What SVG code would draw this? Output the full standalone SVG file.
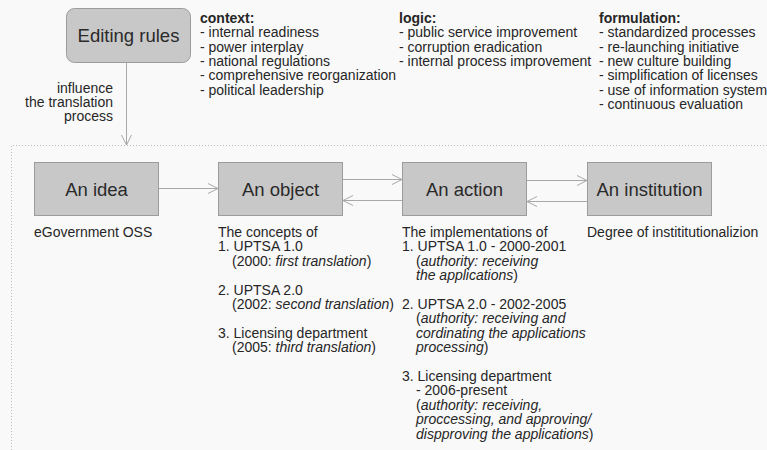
<svg xmlns="http://www.w3.org/2000/svg" width="767" height="450" viewBox="0 0 767 450">
<defs>
<style>
text{font-family:"Liberation Sans",Arial,Helvetica,sans-serif;fill:#262626}
.t{font-size:14px}
.b{font-weight:bold}
.big{font-size:18.5px;text-anchor:middle;fill:#2a2a2a}
.box{fill:#c8c8c8;stroke:#9c9c9c;stroke-width:1}
.conn{stroke:#a8a8a8;stroke-width:1;fill:none;marker-end:url(#ah)}
.frame{stroke:#bdbdbd;stroke-width:1;stroke-dasharray:1 2;fill:none}
</style>
<marker id="ah" viewBox="0 0 12 12" refX="11" refY="6" markerWidth="12" markerHeight="12" markerUnits="userSpaceOnUse" orient="auto">
<polyline points="1,1 11,6 1,11" fill="none" stroke="#a8a8a8" stroke-width="1"/>
</marker>
</defs>
<rect x="0" y="0" width="767" height="450" fill="#f9f9f9"/>
<path class="frame" d="M11.5 450 V145.5 H767"/>

<g id="editing-rules">
<rect class="box" x="66.5" y="8.5" width="124" height="54" rx="8" ry="8"/>
<text class="big" x="128.5" y="42">Editing rules</text>
</g>

<g id="influence-label">
<text class="t" text-anchor="end"><tspan x="113" y="93">influence</tspan><tspan x="113" y="107">the translation</tspan><tspan x="113" y="121">process</tspan></text>
</g>

<g id="context">
<text class="t"><tspan class="b" x="200" y="23">context:</tspan><tspan x="200" y="37.3">- internal readiness</tspan><tspan x="200" y="51.6">- power interplay</tspan><tspan x="200" y="65.9">- national regulations</tspan><tspan x="200" y="80.2">- comprehensive reorganization</tspan><tspan x="200" y="94.5">- political leadership</tspan></text>
</g>

<g id="logic">
<text class="t"><tspan class="b" x="399" y="23">logic:</tspan><tspan x="399" y="37.3">- public service improvement</tspan><tspan x="399" y="51.6">- corruption eradication</tspan><tspan x="399" y="65.9">- internal process improvement</tspan></text>
</g>

<g id="formulation">
<text class="t"><tspan class="b" x="599" y="23">formulation:</tspan><tspan x="599" y="37.3">- standardized processes</tspan><tspan x="599" y="51.6">- re-launching initiative</tspan><tspan x="599" y="65.9">- new culture building</tspan><tspan x="599" y="80.2">- simplification of licenses</tspan><tspan x="599" y="94.5">- use of information systems</tspan><tspan x="599" y="108.8">- continuous evaluation</tspan></text>
</g>

<g id="idea">
<rect class="box" x="34.5" y="162.5" width="124" height="53"/>
<text class="big" x="96.5" y="195.5">An idea</text>
<text class="t" x="34" y="237">eGovernment OSS</text>
</g>

<g id="object">
<rect class="box" x="218.5" y="162.5" width="124" height="53"/>
<text class="big" x="280.5" y="195.5">An object</text>
<text class="t"><tspan x="218" y="237">The concepts of</tspan><tspan x="218" y="251.4">1. UPTSA 1.0</tspan><tspan x="232" y="265.8">(2000: <tspan font-style="italic">first translation</tspan>)</tspan><tspan x="218" y="294.6">2. UPTSA 2.0</tspan><tspan x="232" y="309">(2002: <tspan font-style="italic">second translation</tspan>)</tspan><tspan x="218" y="337.8">3. Licensing department</tspan><tspan x="232" y="352.2">(2005: <tspan font-style="italic">third translation</tspan>)</tspan></text>
</g>

<g id="action">
<rect class="box" x="402.5" y="162.5" width="124" height="53"/>
<text class="big" x="464.5" y="195.5">An action</text>
<text class="t"><tspan x="402" y="237">The implementations of</tspan><tspan x="402" y="251.4">1. UPTSA 1.0 - 2000-2001</tspan><tspan x="416" y="265.8">(<tspan font-style="italic">authority: receiving</tspan></tspan><tspan x="416" y="280.2" font-style="italic">the applications</tspan><tspan>)</tspan><tspan x="402" y="309">2. UPTSA 2.0 - 2002-2005</tspan><tspan x="416" y="323.4">(<tspan font-style="italic">authority: receiving and</tspan></tspan><tspan x="416" y="337.8" font-style="italic">cordinating the applications</tspan><tspan x="416" y="352.2" font-style="italic">processing</tspan><tspan>)</tspan><tspan x="402" y="381">3. Licensing department</tspan><tspan x="416" y="395.4">- 2006-present</tspan><tspan x="416" y="409.8">(<tspan font-style="italic">authority: receiving,</tspan></tspan><tspan x="416" y="424.2" font-style="italic">proccessing, and approving/</tspan><tspan x="416" y="438.6" font-style="italic">dispproving the applications</tspan><tspan>)</tspan></text>
</g>

<g id="institution">
<rect class="box" x="587.5" y="162.5" width="124" height="53"/>
<text class="big" x="649.5" y="195.5">An institution</text>
<text class="t" x="587" y="237">Degree of instititutionalizion</text>
</g>

<g id="connectors">
<line class="conn" x1="126.5" y1="63" x2="126.5" y2="145"/>
<line class="conn" x1="159" y1="188.5" x2="218" y2="188.5"/>
<line class="conn" x1="343" y1="179.5" x2="402" y2="179.5"/>
<line class="conn" x1="402" y1="200.5" x2="343" y2="200.5"/>
<line class="conn" x1="527" y1="180.5" x2="587" y2="180.5"/>
<line class="conn" x1="587" y1="201.5" x2="527" y2="201.5"/>
</g>
</svg>
